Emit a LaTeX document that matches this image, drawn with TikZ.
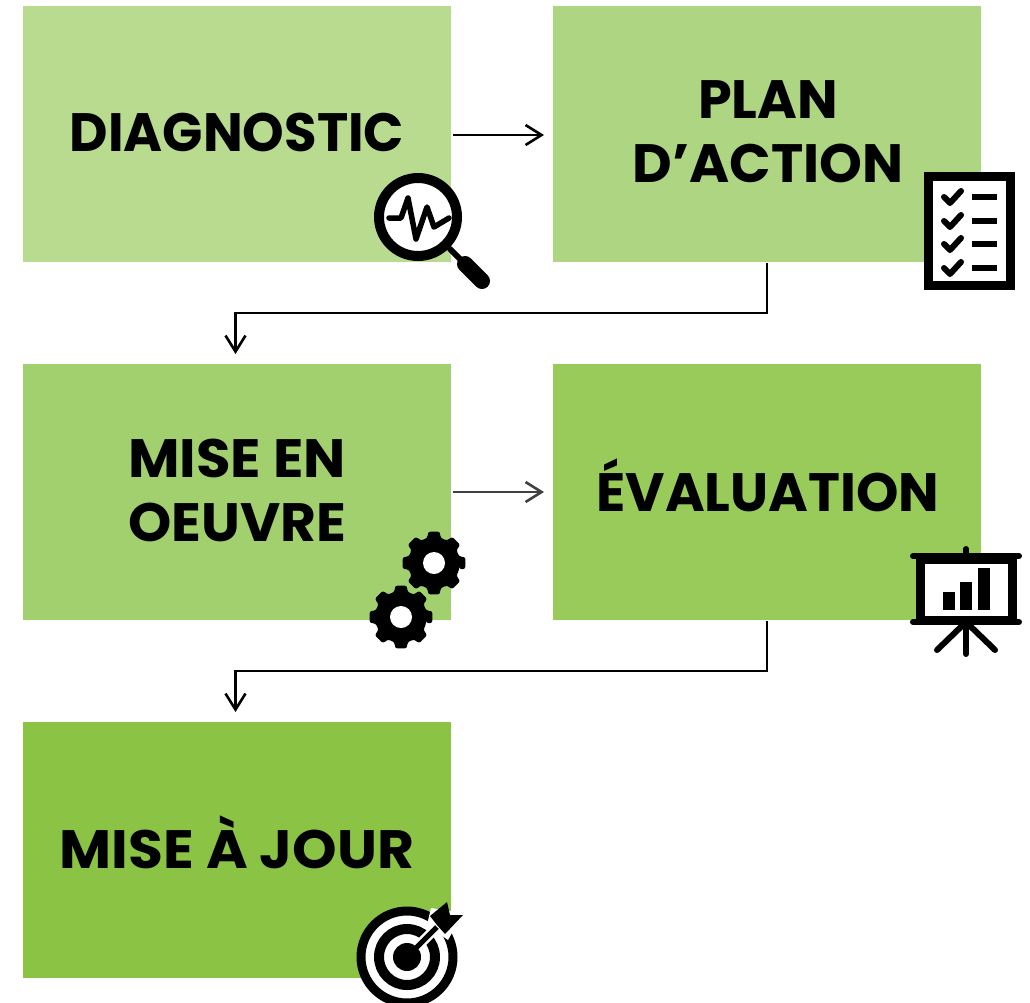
\documentclass[tikz,border=0pt]{standalone}
\usepackage{fontspec}
\setmainfont{Poppins}
\usetikzlibrary{arrows.meta}
\definecolor{gA}{HTML}{B9DB8F}
\definecolor{gB}{HTML}{AED582}
\definecolor{gC}{HTML}{A2D06E}
\definecolor{gD}{HTML}{99CB5B}
\definecolor{gE}{HTML}{8BC445}
\tikzset{
  stepbox/.style={draw=none,minimum width=428pt,minimum height=256pt,inner sep=0pt,outer sep=0pt,anchor=north west},
  steptext/.style={font=\fontsize{54}{64}\selectfont\bfseries,text=black,align=center},
  conn/.style={draw=black,line width=2.6pt,-{Straight Barb[length=16pt,width=20pt,line width=2.6pt]}},
  ink/.style={draw=black,line cap=round,line join=round},
}
\newcommand{\gearicon}[2]{%
  \begin{scope}[shift={(#1,#2)},yscale=-1]
  \fill[black,rounded corners=2.6pt]
    (-14:26) \foreach \k in {0,...,7}{
      -- ({45*\k-14}:26) -- ({45*\k-11}:32) -- ({45*\k+11}:32) -- ({45*\k+14}:26)
    } -- cycle;
  \fill[white] (0,0) circle (11);
  \end{scope}
}
\begin{document}
\begin{tikzpicture}[x=1pt,y=-1pt]
\useasboundingbox (0,0) rectangle (1030,1002);
\node[stepbox,fill=gA] (diag) at (23,6) {};
\node[stepbox,fill=gB] (plan) at (553,6) {};
\node[stepbox,fill=gC] (mise) at (23,364) {};
\node[stepbox,fill=gD] (eval) at (553,364) {};
\node[stepbox,fill=gE] (jour) at (23,722) {};
\node[steptext] (t1) at (237,132) {\scalebox{0.98}[1]{DIAGNOSTIC}};
\node[steptext] (t2) at (768,132) {PLAN\\\scalebox{1.01}[1]{D’ACTION}};
\node[steptext] (t3) at (237,490) {\scalebox{1.04}[1]{MISE EN}\\\scalebox{1.02}[1]{OEUVRE}};
\node[steptext] (t4) at (768,485) {ÉVALUATION};
\node[steptext] (t5) at (237,842) {\scalebox{1.05}[1]{MISE À JOUR}};
% connectors
\coordinate (a1s) at (453,135);
\coordinate (a1e) at (544,135);
\coordinate (a2s) at (453,492);
\coordinate (a2e) at (544,492);
\coordinate (c0) at (767,263);
\coordinate (c1) at (235.5,354);
\coordinate (d0) at (767,621);
\coordinate (c2) at (235.5,712);
\draw[conn] (a1s) -- (a1e);
\draw[conn,draw=black!75] (a2s) -- (a2e);
\draw[conn] (c0) -- (767,313) -- (235.5,313) -- (c1);
\draw[conn] (d0) -- (767,671) -- (235.5,671) -- (c2);
% magnifier
\fill[white] (418,217) circle (39);
\draw[ink,line width=10pt] (418,217) circle (39);
\draw[ink,line width=6pt] (450,249) -- (462,261);
\draw[ink,line width=16pt] (465,264) -- (482,281);
\draw[ink,line width=5.5pt] (389,218) -- (401,218) -- (408,198) -- (416,239) -- (427,207) -- (434,227) -- (449,218);
% checklist
\fill[white] (928.5,176.5) rectangle (1010,285.5);
\draw[black,line width=9pt] (928.5,176.5) rectangle (1010,285.5);
\foreach \y in {197,221,244,268}{
  \draw[ink,line width=6pt] (944,\y) -- (950,\y+6) -- (961,\y-6);
  \draw[black,line width=6pt] (972,\y) -- (997,\y);
}
% gears
\gearicon{434}{563}
\gearicon{401}{617}
% presentation
\fill[white] (925,556) rectangle (1008,622);
\draw[ink,line width=6pt] (913,556) -- (1019,556);
\draw[ink,line width=6pt] (913,622) -- (1019,622);
\draw[black,line width=9pt] (920.5,556) -- (920.5,622);
\draw[black,line width=9pt] (1012.5,556) -- (1012.5,622);
\draw[black,line width=7pt] (925,560) -- (1008,560);
\draw[black,line width=7pt] (925,619) -- (1008,619);
\draw[ink,line width=6pt] (966,549) -- (966,556);
\draw[ink,line width=6pt] (966,622) -- (966,654);
\draw[ink,line width=6pt] (966,622) -- (937,650);
\draw[ink,line width=6pt] (966,622) -- (995,650);
\fill[black] (942.5,592) rectangle (954.5,610);
\fill[black] (960,582) rectangle (972,610);
\fill[black] (978,568) rectangle (990,610);
% target
\begin{scope}
\clip (340,880) rectangle (480,1002);
\fill[white] (407,957) circle (46);
\draw[black,line width=9pt] (407,957) circle (46);
\draw[black,line width=10pt] (407,957) circle (28);
\fill[black] (407,957) circle (14);
\end{scope}
\draw[white,line width=10pt] (418,946) -- (437,927);
\fill[white] (431,908) -- (463,913) -- (448,940) -- (427,925) -- cycle;
\draw[black,line width=5pt] (407,957) -- (437,927);
\fill[black] (430,916) -- (447,902) -- (450,915) -- (463,915) -- (445,934) -- (437,925) -- cycle;
\end{tikzpicture}
\end{document}
